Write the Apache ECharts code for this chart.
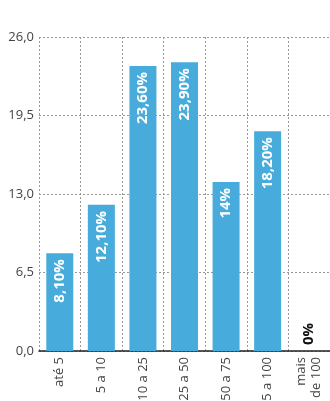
<!DOCTYPE html>
<html><head><meta charset="utf-8">
<script src="https://cdn.jsdelivr.net/npm/echarts@6/dist/echarts.min.js"></script>
<style>html,body{margin:0;padding:0;background:#fff}#c{width:330px;height:401px}</style>
</head><body><div id="c"></div>
<script>
var categories = ['até 5', '5 a 10', '10 a 25', '25 a 50', '50 a 75', '75 a 100', 'mais\nde 100'];
var values = [8.1, 12.1, 23.6, 23.9, 14, 18.2, 0];
var valueLabels = ['8,10%', '12,10%', '23,60%', '23,90%', '14%', '18,20%', '0%'];
var yTicks = [0, 6.5, 13, 19.5, 26];

var chart = echarts.init(document.getElementById('c'));
var data = values.map(function (v, i) {
  var item = { value: v };
  if (v === 0) {
    item.label = { position: 'top', align: 'left', color: '#111', distance: 6 };
  }
  return item;
});
chart.setOption({
  animation: false,
  grid: { left: 39, right: 0, top: 37, bottom: 50, containLabel: false, outerBoundsMode: 'none' },
  xAxis: {
    type: 'category',
    data: categories,
    axisLine: { show: true, lineStyle: { color: '#222', width: 1.5 } },
    axisTick: { show: false },
    splitLine: { show: true, lineStyle: { color: '#999', type: [2, 2], width: 1 } },
    axisLabel: { rotate: 90, color: '#444', fontSize: 13, fontFamily: 'Open Sans', margin: 6, lineHeight: 15 }
  },
  yAxis: {
    type: 'value',
    min: yTicks[0], max: yTicks[yTicks.length - 1], interval: 6.5,
    axisLine: { show: false },
    axisTick: { show: false },
    splitLine: { show: true, lineStyle: { color: '#999', type: [2, 2], width: 1 } },
    axisLabel: {
      color: '#444', fontSize: 13, fontFamily: 'Open Sans', margin: 5,
      formatter: function (v) { return v.toFixed(1).replace('.', ','); }
    }
  },
  series: [{
    type: 'bar',
    data: data,
    barWidth: 27,
    itemStyle: { color: '#47acdb' },
    label: {
      show: true,
      position: 'insideTop',
      rotate: 90,
      align: 'right',
      verticalAlign: 'middle',
      distance: 6,
      color: '#fff',
      fontWeight: 'bold',
      fontSize: 15,
      fontFamily: 'Open Sans',
      formatter: function (p) { return valueLabels[p.dataIndex]; }
    }
  }]
});
</script></body></html>
